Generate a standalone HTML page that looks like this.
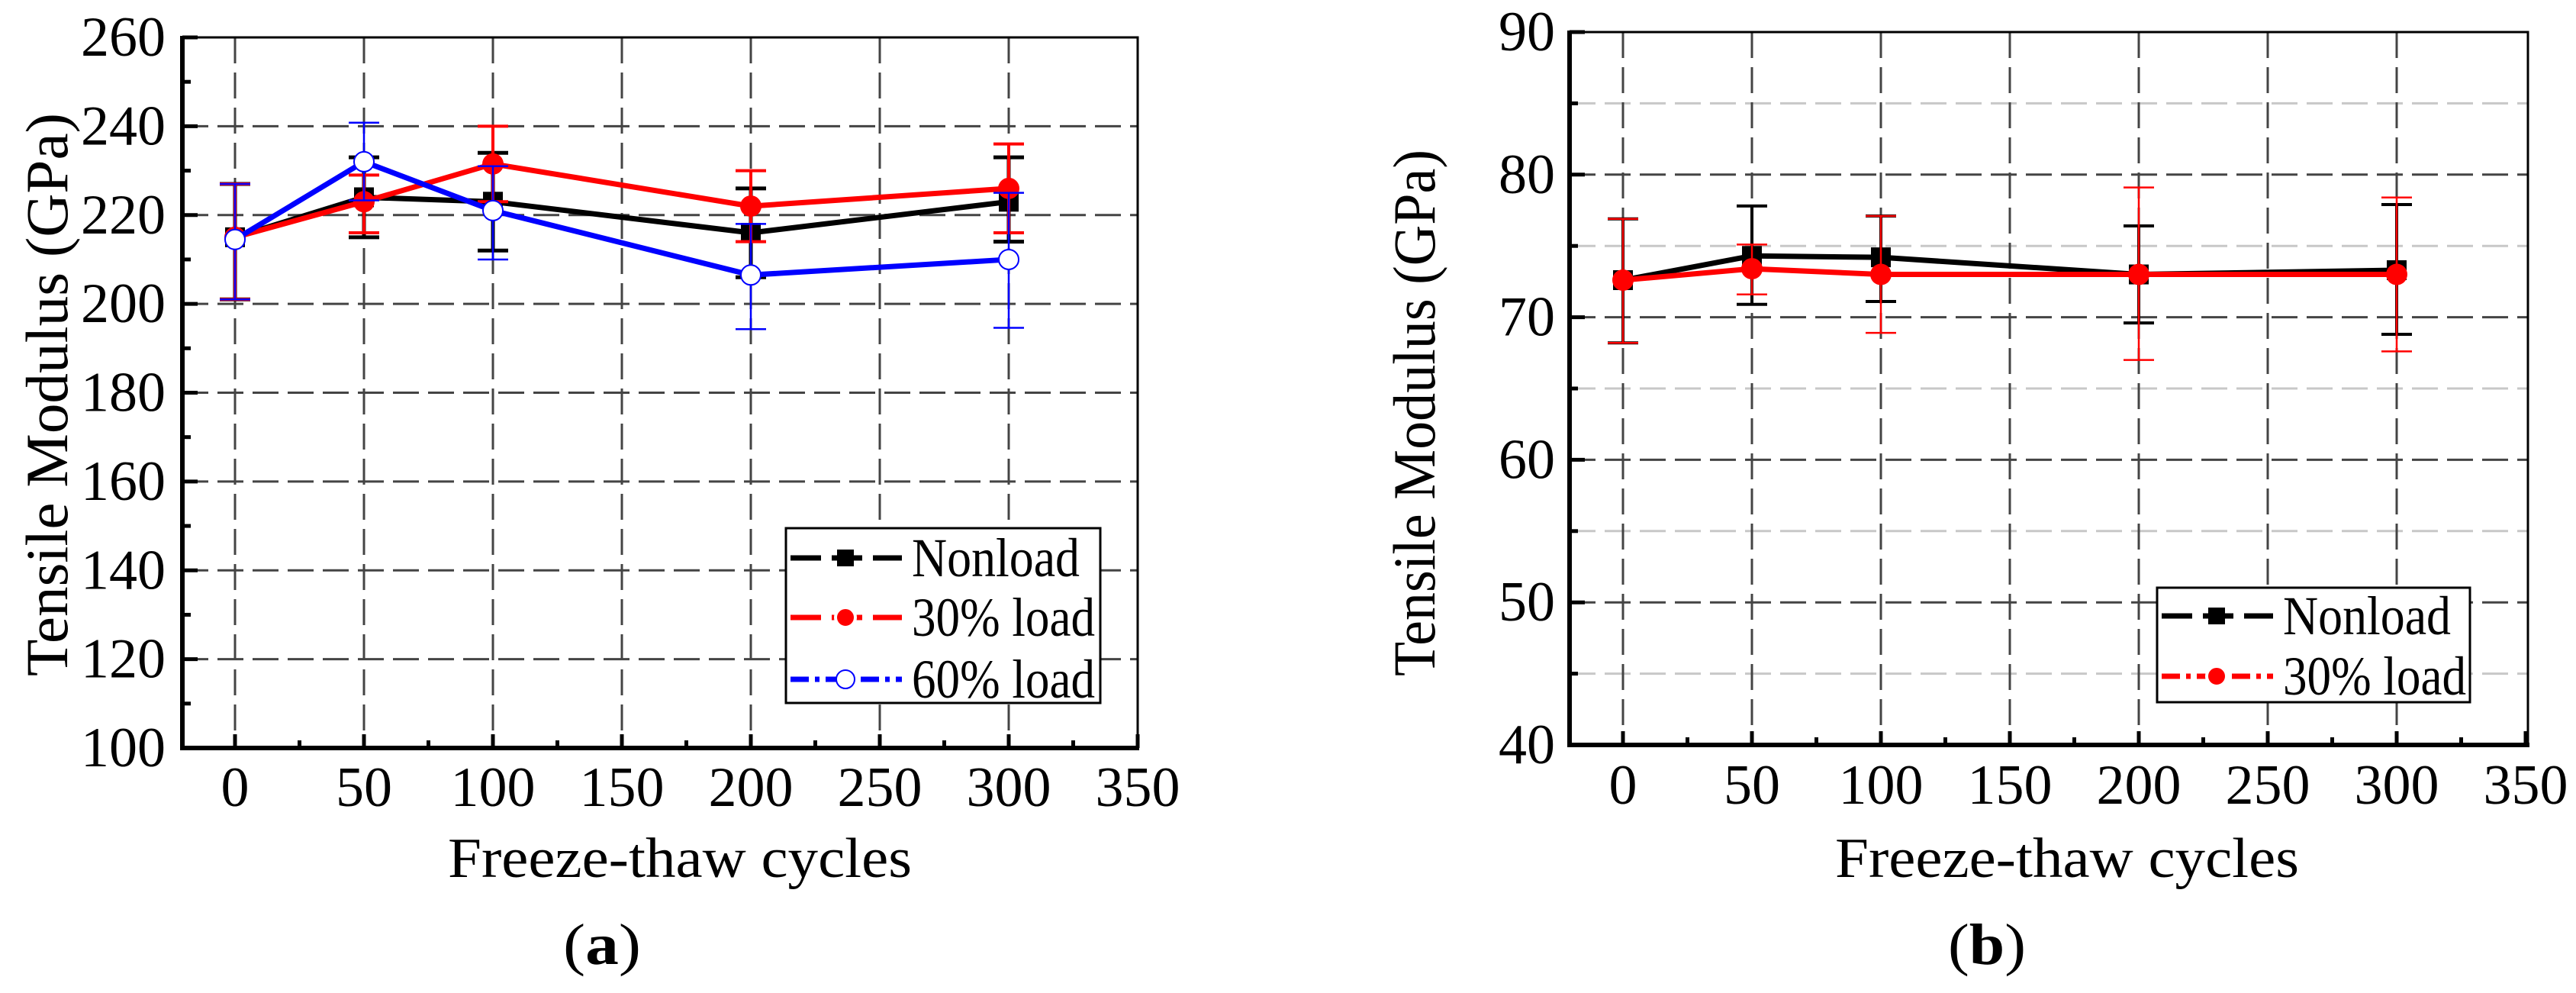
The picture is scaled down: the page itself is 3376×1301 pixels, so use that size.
<!DOCTYPE html>
<html><head><meta charset="utf-8"><style>
html,body{margin:0;padding:0;background:#fff;}
svg, svg text{font-family:"Liberation Serif","DejaVu Serif",serif;}
</style></head><body>
<svg id="fig" width="3376" height="1296" viewBox="0 0 3376 1296" xmlns="http://www.w3.org/2000/svg"></svg>
<script>
// ---- Chart (a) data ----
const xCats = [0, 50, 100, 200, 300];
const xTicks = [0, 50, 100, 150, 200, 250, 300, 350];
const aYTicks = [100, 120, 140, 160, 180, 200, 220, 240, 260];
const aNonload = [215, 224, 223, 216, 223];
const aNonloadLo = [201, 215, 212, 206, 214];
const aNonloadHi = [227, 233, 234, 226, 233];
const a30 = [215, 223, 231.5, 222, 226];
const a30Lo = [201, 216, 223, 214, 216];
const a30Hi = [227, 229, 240, 230, 236];
const a60 = [214.5, 232, 221, 206.5, 210];
const a60Lo = [201, 223.3, 210, 194.3, 194.6];
const a60Hi = [227, 240.8, 231, 218, 225];
// ---- Chart (b) data ----
const bYTicks = [40, 50, 60, 70, 80, 90];
const bNonload = [72.6, 74.3, 74.2, 73.0, 73.3];
const bNonloadLo = [68.2, 70.9, 71.1, 69.6, 68.8];
const bNonloadHi = [76.9, 77.8, 77.1, 76.4, 77.9];
const b30 = [72.6, 73.4, 73.0, 73.0, 73.0];
const b30Lo = [68.2, 71.6, 68.9, 67.0, 67.6];
const b30Hi = [76.9, 75.1, 77.1, 79.1, 78.4];

const NS = "http://www.w3.org/2000/svg";
const svg = document.getElementById('fig');
const FONT = '"Liberation Serif", "DejaVu Serif", serif';
function el(tag, attrs, parent, text){
  const e = document.createElementNS(NS, tag);
  for (const k in attrs) e.setAttribute(k, attrs[k]);
  if (tag === 'text') { e.setAttribute('font-family', FONT); e.style.fontFamily = FONT; e.style.fontWeight = 'normal'; }
  if (text !== undefined) e.textContent = text;
  (parent || svg).appendChild(e);
  return e;
}

function drawChart(cfg){
  const g = el('g', {});
  
  
  const X = v => cfg.x0 + (v - 0) / 350 * (cfg.x1 - cfg.x0);
  const Y = v => cfg.y1 - (v - cfg.ymin) / (cfg.ymax - cfg.ymin) * (cfg.y1 - cfg.y0);
  if (cfg.minorGrid) {
    for (let i = 0; i < cfg.yTicks.length - 1; i++) {
      const v = (cfg.yTicks[i] + cfg.yTicks[i+1]) / 2;
      const gl = el('line', {x1: cfg.xl, x2: cfg.xr, y1: Y(v), y2: Y(v), stroke: '#c8c8c8', 'stroke-width': 3, 'stroke-dasharray': '34 12'}, g);
      
      
    }
  }
  cfg.yTicks.forEach((v, i) => {
    if (i === 0 || i === cfg.yTicks.length - 1) return;
    const gl = el('line', {x1: cfg.xl, x2: cfg.xr, y1: Y(v), y2: Y(v), stroke: '#444', 'stroke-width': 3, 'stroke-dasharray': '34 12'}, g);
    
    
  });
  xTicks.forEach((v, i) => {
    if (i === xTicks.length - 1) return;
    const gl = el('line', {x1: X(v), x2: X(v), y1: cfg.y0, y2: cfg.y1, stroke: '#444', 'stroke-width': 3, 'stroke-dasharray': '34 12'}, g);
    
    
  });
  const fr = el('rect', {x: cfg.xl, y: cfg.y0, width: cfg.xr - cfg.xl, height: cfg.y1 - cfg.y0, fill: 'none', stroke: '#000', 'stroke-width': 3}, g);
  
  
  el('line', {x1: cfg.xl, x2: cfg.xl, y1: cfg.y0 - 2, y2: cfg.y1 + 3, stroke: '#000', 'stroke-width': 6}, g);
  el('line', {x1: cfg.xl - 3, x2: cfg.xr + 2, y1: cfg.y1, y2: cfg.y1, stroke: '#000', 'stroke-width': 6}, g);
  cfg.yTicks.forEach((v, i) => {
    el('line', {x1: cfg.xl, x2: cfg.xl + 20, y1: Y(v), y2: Y(v), stroke: '#000', 'stroke-width': 5}, g);
    if (i < cfg.yTicks.length - 1) {
      const m = (v + cfg.yTicks[i+1]) / 2;
      el('line', {x1: cfg.xl, x2: cfg.xl + 11, y1: Y(m), y2: Y(m), stroke: '#000', 'stroke-width': 5}, g);
    }
    const t = el('text', {x: cfg.ylabX, y: Y(v) + 24, 'text-anchor': 'end', 'font-size': 74}, g, String(v));
    
    
  });
  xTicks.forEach((v, i) => {
    el('line', {x1: X(v), x2: X(v), y1: cfg.y1, y2: cfg.y1 - 18, stroke: '#000', 'stroke-width': 5}, g);
    if (i < xTicks.length - 1) {
      const m = v + 25;
      el('line', {x1: X(m), x2: X(m), y1: cfg.y1, y2: cfg.y1 - 10, stroke: '#000', 'stroke-width': 5}, g);
    }
    const t = el('text', {x: X(v), y: cfg.xlabY, 'text-anchor': 'middle', 'font-size': 74}, g, String(v));
    
    
  });
  const xt = el('text', {x: cfg.xtX, y: cfg.xtY, 'font-size': 74, textLength: 608, lengthAdjust: 'spacingAndGlyphs'}, g, 'Freeze-thaw cycles');
  
  
  const yt = el('text', {x: 0, y: 0, 'font-size': 78, 'text-anchor': 'middle', textLength: cfg.ytLen, lengthAdjust: 'spacingAndGlyphs', transform: `translate(${cfg.ytX},${cfg.ytY}) rotate(-90)`}, g, 'Tensile Modulus (GPa)');
  
  
  const pl = el('text', {x: cfg.plX, y: 1263, 'font-size': 76, textLength: 102, lengthAdjust: 'spacingAndGlyphs'}, g);
  el('tspan', {}, pl, '(');
  el('tspan', {'font-weight': 'bold'}, pl, cfg.letter);
  el('tspan', {}, pl, ')');
  
  

  cfg.series.forEach(s => {
    const sg = el('g', {}, g);
    
    
    const pts = xCats.map((c, i) => X(c) + ',' + Y(s.v[i])).join(' ');
    el('polyline', {points: pts, fill: 'none', stroke: s.color, 'stroke-width': 7, 'stroke-linejoin': 'round'}, sg);
    xCats.forEach((c, i) => {
      const eb = el('g', {}, sg);
      
      
      el('line', {x1: X(c), x2: X(c), y1: Y(s.lo[i]), y2: Y(s.hi[i]), stroke: s.color, 'stroke-width': s.ew}, eb);
      [s.lo[i], s.hi[i]].forEach(v => el('line', {x1: X(c) - 20, x2: X(c) + 20, y1: Y(v), y2: Y(v), stroke: s.color, 'stroke-width': s.ew}, eb));
      let m;
      if (s.marker === 'square') m = el('rect', {x: X(c) - 13, y: Y(s.v[i]) - 13, width: 26, height: 26, fill: '#000'}, sg);
      else if (s.marker === 'circle') m = el('circle', {cx: X(c), cy: Y(s.v[i]), r: 14, fill: s.color}, sg);
      else m = el('circle', {cx: X(c), cy: Y(s.v[i]), r: 13, fill: '#fff', stroke: s.color, 'stroke-width': 2}, sg);
      
      
    });
  });

  const lg = el('g', {}, g);
  
  
  const L = cfg.legend;
  el('rect', {x: L.x, y: L.y, width: L.w, height: L.h, fill: '#fff', stroke: '#000', 'stroke-width': 3}, lg);
  cfg.series.forEach((s, i) => {
    const ry = L.rows[i];
    const en = el('g', {}, lg);
    
    
    el('line', {x1: L.x + 6, x2: L.x + 152, y1: ry, y2: ry, stroke: s.color, 'stroke-width': 7, 'stroke-dasharray': s.dash}, en);
    const mx = L.x + 78;
    if (s.marker === 'square') el('rect', {x: mx - 11, y: ry - 11, width: 22, height: 22, fill: '#000'}, en);
    else if (s.marker === 'circle') el('circle', {cx: mx, cy: ry, r: 13, fill: s.color, stroke: '#fff', 'stroke-width': 4}, en);
    else el('circle', {cx: mx, cy: ry, r: 12, fill: '#fff', stroke: s.color, 'stroke-width': 2}, en);
    el('text', {x: L.x + 165, y: ry + 24, 'font-size': 72, textLength: s.tl, lengthAdjust: 'spacingAndGlyphs'}, en, s.label);
  });
}

drawChart({
  name: 'chart-a', letter: 'a', x0: 308, x1: 308 + 7 * 169, xl: 239, xr: 1491,
  y0: 49, y1: 980, ymin: 100, ymax: 260, yTicks: aYTicks, minorGrid: false,
  ylabX: 217, xlabY: 1056, xtX: 587, xtY: 1149, ytX: 88, ytY: 517, ytLen: 738, plX: 738,
  legend: {x: 1030, y: 692, w: 412, h: 229, rows: [731, 809, 890]},
  series: [
    {name: 'series-nonload', label: 'Nonload', tl: 220, v: aNonload, lo: aNonloadLo, hi: aNonloadHi, color: '#000', ew: 5, marker: 'square', dash: '40 14'},
    {name: 'series-30-load', label: '30% load', tl: 240, v: a30, lo: a30Lo, hi: a30Hi, color: '#ff0000', ew: 4, marker: 'circle', dash: '40 14'},
    {name: 'series-60-load', label: '60% load', tl: 240, v: a60, lo: a60Lo, hi: a60Hi, color: '#0000ff', ew: 2.5, marker: 'open', dash: '24 8 6 8'}
  ]
});
drawChart({
  name: 'chart-b', letter: 'b', x0: 2127, x1: 2127 + 7 * 169, xl: 2057, xr: 3313,
  y0: 42, y1: 976, ymin: 40, ymax: 90, yTicks: bYTicks, minorGrid: true,
  ylabX: 2038, xlabY: 1053, xtX: 2405, xtY: 1149, ytX: 1880, ytY: 541, ytLen: 690, plX: 2553,
  legend: {x: 2827, y: 770, w: 410, h: 150, rows: [807, 886]},
  series: [
    {name: 'series-nonload', label: 'Nonload', tl: 220, v: bNonload, lo: bNonloadLo, hi: bNonloadHi, color: '#000', ew: 4, marker: 'square', dash: '40 14'},
    {name: 'series-30-load', label: '30% load', tl: 240, v: b30, lo: b30Lo, hi: b30Hi, color: '#ff0000', ew: 2.5, marker: 'circle', dash: '24 8 6 8'}
  ]
});
</script>
</body></html>
